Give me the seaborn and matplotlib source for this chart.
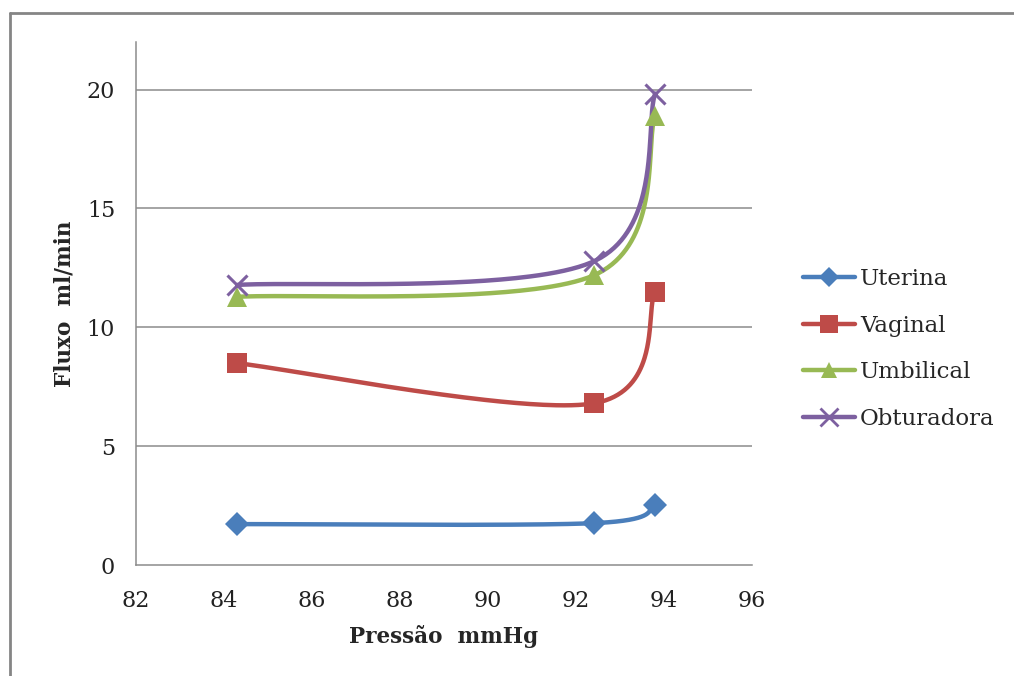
import numpy as np
import pandas as pd
import matplotlib
matplotlib.use("Agg")
import matplotlib.pyplot as plt
from matplotlib.lines import Line2D
import seaborn as sns

pressao = [84.3, 92.4, 93.8]
uterina = [1.72, 1.76, 2.52]
vaginal = [8.49, 6.8, 11.5]
umbilical = [11.28, 12.18, 18.9]
obturadora = [11.78, 12.77, 19.83]

series_names = ["Uterina", "Vaginal", "Umbilical", "Obturadora"]
series_vals = [uterina, vaginal, umbilical, obturadora]
colors = ["#4A7EBB", "#BE4B48", "#98B954", "#7D60A0"]
markers = ["D", "s", "^", "x"]
msizes = [12.5, 15, 14, 15]

x_ticks = [82, 84, 86, 88, 90, 92, 94, 96]
y_ticks = [0, 5, 10, 15, 20]


def smooth(xs, ys, n=80):
    # excel-like smoothed line: catmull-rom as cubic bezier (tension 1/6)
    p = np.column_stack([xs, ys]).astype(float)
    pts = []
    for i in range(len(p) - 1):
        p0 = p[max(i - 1, 0)]
        p1 = p[i]
        p2 = p[i + 1]
        p3 = p[min(i + 2, len(p) - 1)]
        c1 = p1 + (p2 - p0) / 6
        c2 = p2 - (p3 - p1) / 6
        t = np.linspace(0, 1, n)[:, None]
        b = ((1 - t) ** 3) * p1 + 3 * ((1 - t) ** 2) * t * c1 + 3 * (1 - t) * t ** 2 * c2 + t ** 3 * p2
        pts.append(b if i == 0 else b[1:])
    out = np.vstack(pts)
    return out[:, 0], out[:, 1]


sns.set_style("white")
plt.rcParams["font.family"] = ["DejaVu Serif"]

fig = plt.figure(figsize=(10.14, 6.76), dpi=100)
ax = fig.add_axes([0.1341, 0.1642, 0.6075, 0.7737])

grid_c = "#8C8C8C"
for v in y_ticks[1:]:
    ax.axhline(v, color=grid_c, lw=1.1, zorder=0)

handles = []
for name, vals, c, m, ms in zip(series_names, series_vals, colors, markers, msizes):
    sx, sy = smooth(pressao, vals)
    sns.lineplot(x=sx, y=sy, sort=False, estimator=None, color=c, lw=3.2, ax=ax, zorder=2)
    df = pd.DataFrame({"x": pressao, "y": vals})
    if m == "x":
        ax.plot(df["x"], df["y"], linestyle="none", marker=m, ms=ms, mew=2.2, color=c, zorder=3)
    else:
        ax.plot(df["x"], df["y"], linestyle="none", marker=m, ms=ms, mew=0, color=c, zorder=3)
    handles.append(Line2D([], [], color=c, lw=3.2, marker=m, ms=ms * 0.85,
                          mew=2 if m == "x" else 0, label=name))

ax.set_xlim(82, 96)
ax.set_ylim(0, 22)
ax.set_xticks(x_ticks)
ax.set_yticks(y_ticks)
ax.tick_params(axis="both", labelsize=16, colors="#222222", length=8, width=1.1,
               direction="out", color=grid_c)
ax.tick_params(axis="x", pad=10)
ax.tick_params(axis="y", pad=7)
for s in ["top", "right"]:
    ax.spines[s].set_visible(False)
for s in ["left", "bottom"]:
    ax.spines[s].set_color(grid_c)
    ax.spines[s].set_linewidth(1.1)

ax.set_xlabel("Pressão  mmHg", fontsize=15.5, fontweight="bold", labelpad=9)
ax.set_ylabel("Fluxo  ml/min", fontsize=15.5, fontweight="bold", labelpad=8)

leg = ax.legend(handles=handles, loc="center left", bbox_to_anchor=(1.049, 0.413),
                frameon=False, fontsize=16.5, handlelength=2.3, handletextpad=0.2,
                labelspacing=1.07)

# chart area border (left and top visible only)
fig.add_artist(Line2D([10 / 1014, 10 / 1014], [0, 1 - 13 / 676], transform=fig.transFigure,
                      color="#858585", lw=2))
fig.add_artist(Line2D([10 / 1014, 1], [1 - 13 / 676, 1 - 13 / 676], transform=fig.transFigure,
                      color="#858585", lw=2))

fig.savefig("out.png", dpi=100)
